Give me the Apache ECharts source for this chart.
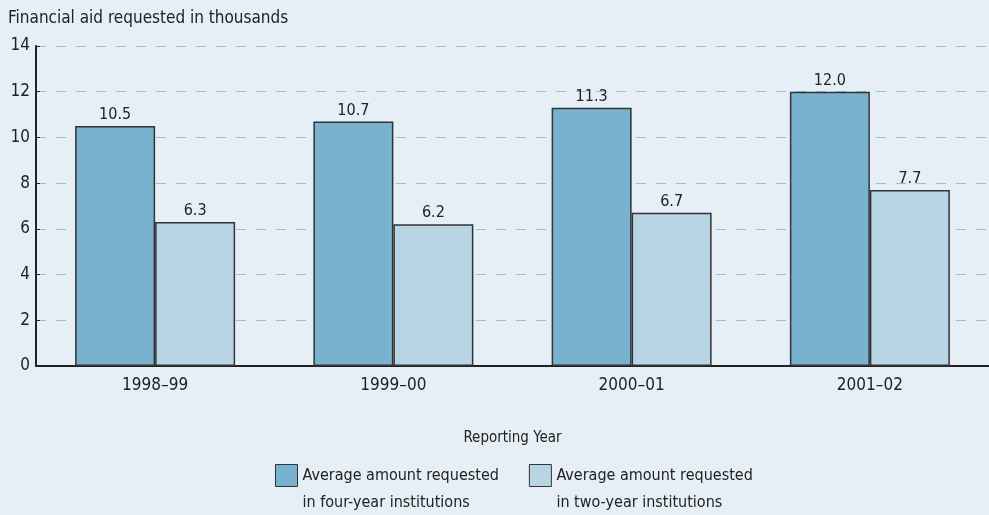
<!DOCTYPE html>
<html>
<head>
<meta charset="utf-8">
<script src="https://cdn.jsdelivr.net/npm/echarts@6/dist/echarts.min.js"></script>
<style>
  html, body { margin: 0; padding: 0; background: #e6eff6; }
  #chart { width: 989px; height: 515px; }
</style>
</head>
<body>
<div id="chart"></div>
<script>
const years = ['1998\u201399', '1999\u201300', '2000\u201301', '2001\u201302'];
const fourYear = [10.5, 10.7, 11.3, 12.0];
const twoYear = [6.3, 6.2, 6.7, 7.7];
const fourYearName = 'Average amount requested\nin four-year institutions';
const twoYearName = 'Average amount requested\nin two-year institutions';

const font = '"Liberation Sans Narrow", "DejaVu Sans Condensed", sans-serif';
const chart = echarts.init(document.getElementById('chart'));

const barLabel = {
  show: true,
  position: 'top',
  distance: 3,
  color: '#222',
  fontSize: 16,
  fontFamily: font,
  formatter: p => p.value.toFixed(1)
};

chart.setOption({
  backgroundColor: '#e6eff6',
  textStyle: { fontFamily: font },
  title: {
    text: 'Financial aid requested in thousands',
    left: 3,
    top: 5,
    textStyle: { fontSize: 17, fontWeight: 'normal', color: '#222', fontFamily: font }
  },
  legend: {
    top: 430,
    left: 270,
    icon: 'rect',
    itemWidth: 22,
    itemHeight: 22,
    itemGap: 30,
    itemStyle: { borderColor: '#333', borderWidth: 1 },
    // leading blank line so the first text line sits beside the swatch
    formatter: name => '\n' + name,
    textStyle: {
      fontSize: 16,
      color: '#222',
      fontFamily: font,
      lineHeight: 27
    },
    data: [fourYearName, twoYearName]
  },
  grid: {
    left: 36,
    right: 0,
    top: 46,
    bottom: 149
  },
  xAxis: {
    type: 'category',
    data: years,
    name: 'Reporting Year',
    nameLocation: 'middle',
    nameGap: 65,
    nameTextStyle: { fontSize: 15, color: '#222', fontFamily: font },
    axisLine: { lineStyle: { color: '#222', width: 2 } },
    axisTick: { show: false },
    axisLabel: { fontSize: 17, color: '#222', margin: 11, fontFamily: font }
  },
  yAxis: {
    type: 'value',
    min: 0,
    max: 14,
    interval: 2,
    axisLine: { show: true, lineStyle: { color: '#222', width: 2 } },
    axisTick: { show: true, inside: true, length: 4, lineStyle: { color: '#222' } },
    axisLabel: { fontSize: 17, color: '#222', margin: 6, fontFamily: font },
    splitLine: {
      lineStyle: { color: '#8fc3dc', type: [10, 10], width: 1 }
    }
  },
  series: [
    {
      name: fourYearName,
      type: 'bar',
      data: fourYear,
      barWidth: 80,
      barGap: '0%',
      itemStyle: { color: '#79b2cf', borderColor: '#333', borderWidth: 1.5 },
      label: barLabel
    },
    {
      name: twoYearName,
      type: 'bar',
      data: twoYear,
      barWidth: 80,
      barGap: '0%',
      itemStyle: { color: '#b8d5e5', borderColor: '#333', borderWidth: 1.5 },
      label: barLabel
    }
  ]
});
</script>
</body>
</html>
